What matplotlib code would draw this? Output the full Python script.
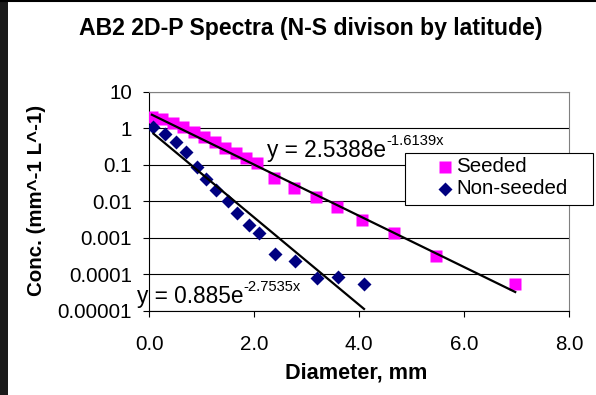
import numpy as np
import matplotlib
matplotlib.use("Agg")
import matplotlib.pyplot as plt
from matplotlib.patches import Rectangle
from matplotlib.lines import Line2D

plt.rcParams["font.family"] = ["Liberation Sans", "DejaVu Sans"]

# data
seeded_x = [0.05, 0.25, 0.45, 0.65, 0.85, 1.05, 1.25, 1.45, 1.65, 1.85, 2.05,
            2.38, 2.76, 3.18, 3.57, 4.05, 4.67, 5.47, 6.97]
seeded_y = [2.07, 1.76, 1.37, 1.06, 0.79, 0.59, 0.41, 0.28, 0.21, 0.15, 0.11,
            0.043, 0.023, 0.0135, 0.0072, 0.0031, 0.00135, 0.00032, 0.000056]

nonseeded_x = [0.08, 0.30, 0.51, 0.70, 0.90, 1.08, 1.27, 1.49, 1.68, 1.90, 2.09,
               2.39, 2.78, 3.20, 3.60, 4.09]
nonseeded_y = [1.06, 0.70, 0.43, 0.23, 0.089, 0.041, 0.020, 0.0103, 0.0049, 0.0023,
               0.00135, 0.00037, 0.00023, 0.000079, 0.000083, 0.000056]

# trendline coefficients y = a*exp(b*x)
seeded_fit = (2.5388, -1.6139)
nonseeded_fit = (0.885, -2.7535)

ytick_vals = [0.00001, 0.0001, 0.001, 0.01, 0.1, 1, 10]
ytick_labels = ["0.00001", "0.0001", "0.001", "0.01", "0.1", "1", "10"]
xtick_vals = [0.0, 2.0, 4.0, 6.0, 8.0]

W, H = 596, 395
pink = "#ff00ff"
navy = "#000080"


def fx(px):
    return px / W


def fy(py):
    return 1 - py / H


fig = plt.figure(figsize=(W / 100, H / 100), dpi=100)
ax = fig.add_axes([0.2505, 0.2127, 0.7047, 0.5551])

ax.set_yscale("log")
ax.set_xlim(0, 8)
ax.set_ylim(1e-5, 10)

for yv in ytick_vals:
    ax.axhline(yv, color="black", lw=0.8, zorder=1)

ax.plot(seeded_x, seeded_y, "s", color=pink, ms=8.5, mec="none", zorder=3)
ax.plot(nonseeded_x, nonseeded_y, "D", color=navy, ms=7.3, mec="none", zorder=3)

xs = np.linspace(min(seeded_x), max(seeded_x), 100)
ax.plot(xs, seeded_fit[0] * np.exp(seeded_fit[1] * xs), color="black", lw=1.6, zorder=4)
xn = np.linspace(min(nonseeded_x), max(nonseeded_x), 100)
ax.plot(xn, nonseeded_fit[0] * np.exp(nonseeded_fit[1] * xn), color="black", lw=1.6, zorder=4)

ax.set_yticks(ytick_vals)
ax.set_yticklabels(ytick_labels)
ax.yaxis.set_minor_locator(matplotlib.ticker.NullLocator())
ax.set_xticks(xtick_vals)
ax.set_xticklabels(["%.1f" % v for v in xtick_vals])
ax.tick_params(axis="both", direction="out", length=4.5, width=0.8, labelsize=14.8, color="black")
ax.tick_params(axis="y", pad=8)
ax.tick_params(axis="x", pad=13)

for s in ["top", "right"]:
    ax.spines[s].set_color("#808080")
    ax.spines[s].set_linewidth(0.8)
for s in ["left", "bottom"]:
    ax.spines[s].set_color("black")
    ax.spines[s].set_linewidth(0.8)

fig.canvas.draw()
renderer = fig.canvas.get_renderer()


def eq_text(px, base_py, main, sup):
    t = fig.text(fx(px), fy(base_py), main, fontsize=16.3, va="baseline", ha="left", zorder=5)
    bb = t.get_window_extent(renderer)
    fig.text(bb.x1 / W, fy(base_py - 12), sup, fontsize=10.6, va="baseline", ha="left", zorder=5)


eq_text(267, 157, "y = 2.5388e", "-1.6139x")
eq_text(137, 303, "y = 0.885e", "-2.7535x")

# legend box
fig.add_artist(Rectangle((fx(405), fy(205)), fx(593) - fx(405), fy(153) - fy(205),
                         transform=fig.transFigure, facecolor="white", edgecolor="black", lw=0.8))
leg_labels = ["Seeded", "Non-seeded"]
leg_styles = [("s", pink, 8.5), ("D", navy, 7.3)]
for i, (lab, (mk, col, ms)) in enumerate(zip(leg_labels, leg_styles)):
    py = 167 + 22 * i
    fig.add_artist(Line2D([fx(445)], [fy(py)], transform=fig.transFigure, marker=mk, color=col,
                          ms=ms, mec="none", ls="none"))
    fig.text(fx(456), fy(py), lab, fontsize=14.8, va="center", ha="left")

fig.text(fx(311), fy(35), "AB2 2D-P Spectra (N-S divison by latitude)", fontsize=16.6,
         fontweight="bold", ha="center", va="baseline")
fig.text(fx(356), fy(378), "Diameter, mm", fontsize=15.6, fontweight="bold",
         ha="center", va="baseline")
fig.text(fx(37), fy(200), "Conc. (mm^-1 L^-1)", fontsize=14.8, fontweight="bold",
         ha="center", va="center", rotation=90)

fig.add_artist(Rectangle((0, 0), fx(8), 1, transform=fig.transFigure, color="#1a1a1a", lw=0))
fig.add_artist(Line2D([0, 1], [fy(0.5), fy(0.5)], transform=fig.transFigure, color="black", lw=1.5))

fig.savefig("out.png", dpi=100)
